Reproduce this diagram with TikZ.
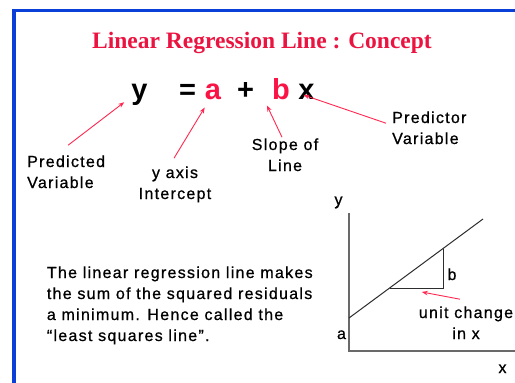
\documentclass[tikz,border=0pt]{standalone}
\usepackage{fontspec}
\setmainfont{Liberation Sans}[LetterSpace=8,FakeBold=0.7]
\newfontfamily\titlefont{Liberation Serif}
\newfontfamily\eqfont{Liberation Sans}
\usetikzlibrary{arrows.meta,calc}
\definecolor{frameblue}{RGB}{10,63,216}
\definecolor{titlered}{RGB}{235,20,65}
\definecolor{eqred}{RGB}{250,20,70}
\definecolor{arrred}{RGB}{255,40,80}
\definecolor{axisgray}{RGB}{105,105,105}
\definecolor{linegray}{RGB}{45,45,45}
\begin{document}
\begin{tikzpicture}[x=1pt,y=-1pt,
  lbl/.style={inner sep=0pt, font=\fontsize{16}{21}\selectfont},
  eqsym/.style={inner sep=0pt, anchor=base, font=\eqfont\bfseries\fontsize{29}{32}\selectfont},
  arr/.style={draw=arrred, line width=0.9pt, -{Stealth[length=6pt,width=4.5pt]}},
  axis/.style={draw=axisgray, line width=1.2pt},
  regline/.style={draw=linegray, line width=1pt},
  frame/.style={draw=frameblue, line width=3.2pt}]
\useasboundingbox (0,0) rectangle (515,383);
\fill[white] (0,0) rectangle (515,383);
% frame
\draw[frame] (14,383) -- (14,10.8) -- (515,10.8);
% title
\node[inner sep=0pt, anchor=base, text=titlered, font=\titlefont\bfseries\fontsize{23.5}{26}\selectfont] (title) at (262,48) {Linear Regression Line : Concept};
% equation
\node[eqsym] (eqy) at (139.5,99) {y};
\node[eqsym] (eqeq) at (187.5,99) {=};
\node[eqsym, text=eqred] (eqa) at (213,99) {a};
\node[eqsym] (eqplus) at (245.5,99) {+};
\node[eqsym, text=eqred] (eqb) at (281,99) {b};
\node[eqsym] (eqx) at (306.5,99) {x};
% labels (base = baseline of last line)
\node[lbl, anchor=base west, align=left] (pred) at (27,188) {Predicted\\Variable};
\node[lbl, anchor=base, align=center] (icpt) at (175,199) {y axis\\Intercept};
\node[lbl, anchor=base, align=center] (slope) at (285,171) {Slope of\\Line};
\node[lbl, anchor=base west, align=left] (predr) at (392,144) {Predictor\\Variable};
% arrows to equation
\draw[arr] ([xshift=2pt,yshift=10pt]pred.north) -- ([xshift=-7pt,yshift=3pt]eqy.south west);
\draw[arr] ([xshift=-1pt,yshift=8pt]icpt.north) -- ([yshift=-8pt]eqa.south west);
\draw[arr] ([xshift=-3pt,yshift=1pt]slope.north) -- ([xshift=-5pt,yshift=-6pt]eqb.south west);
\draw[arr] ([xshift=-6pt,yshift=-12pt]predr.north west) -- ([xshift=-3pt,yshift=4pt]eqx.base);
% paragraph
\node[lbl, anchor=base west, align=left] (para) at (46.7,341) {The linear regression line makes\\the sum of the squared residuals\\a minimum. Hence called the\\“least squares line”.};
% graph
\coordinate (o) at (349,351);
\coordinate (ytop) at (349,213);
\coordinate (xend) at (515,351);
\coordinate (l1) at (349,318);
\coordinate (l2) at (483,219);
\coordinate (t1) at (390,288);
\coordinate (t2) at (443,288);
\coordinate (t3) at (443,248.6);
\draw[axis] (ytop) -- (o) -- (xend);
\draw[regline] (l1) -- (l2);
\draw[regline] (t1) -- (t2) -- (t3);
\node[lbl, anchor=base] (ylab) at (338.5,205) {y};
\node[lbl, anchor=base] (xlab) at (502.5,373) {x};
\node[lbl, anchor=base] (alab) at (341.5,339) {a};
\node[lbl, anchor=base] (blab) at (452,280) {b};
\node[lbl, anchor=base, align=center] (unit) at (466,339) {unit change\\in x};
\draw[arr] ([xshift=-6pt,yshift=7pt]unit.north) -- ([yshift=-4pt]$(t1)!0.6!(t2)$);
\end{tikzpicture}
\end{document}
